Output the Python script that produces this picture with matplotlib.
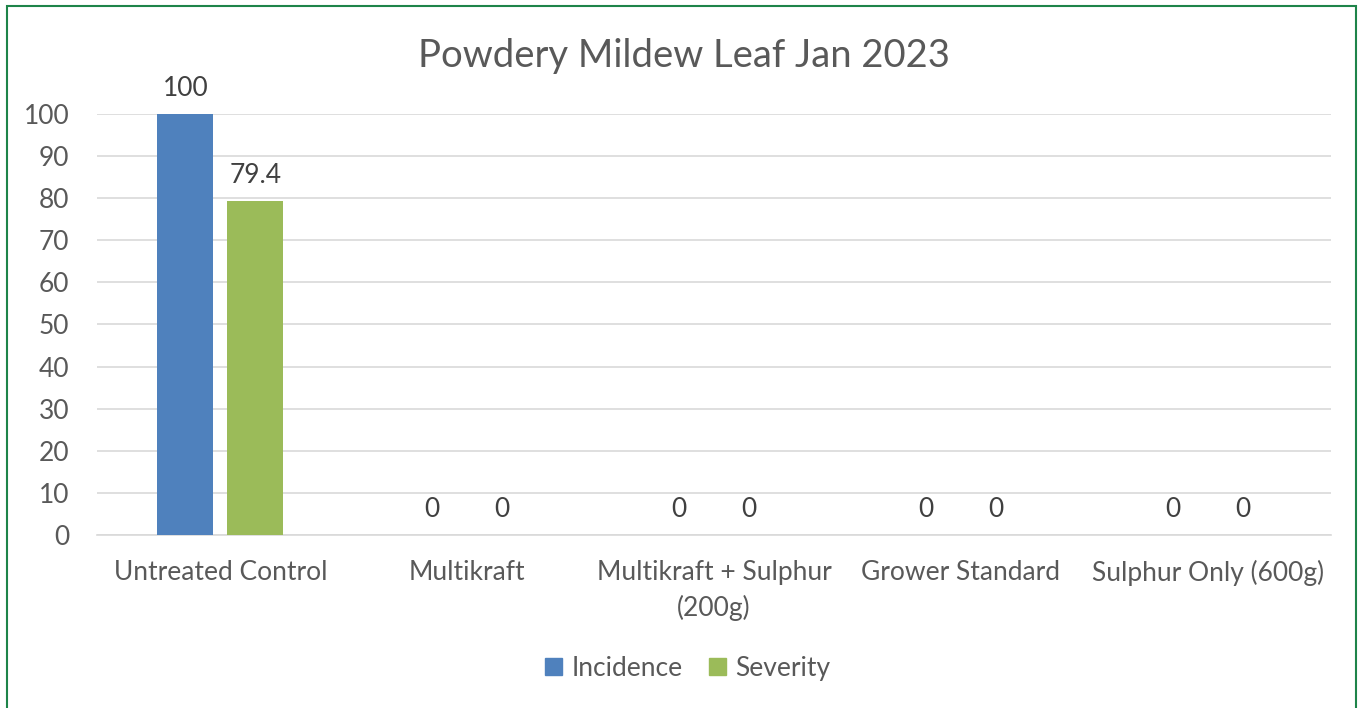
import matplotlib.pyplot as plt
import matplotlib.patches as mpatches
import numpy as np

plt.rcParams['font.family'] = ['Lato', 'DejaVu Sans']

categories = ['Untreated Control', 'Multikraft', 'Multikraft + Sulphur\n(200g)',
              'Grower Standard', 'Sulphur Only (600g)']
incidence = [100, 0, 0, 0, 0]
severity = [79.4, 0, 0, 0, 0]
yticks = [0, 10, 20, 30, 40, 50, 60, 70, 80, 90, 100]

blue = '#4f81bd'
green = '#9bbb59'
text_col = '#595959'

fig = plt.figure(figsize=(13.59, 7.08), dpi=100)
ax = fig.add_axes([0.0714, 0.2444, 0.908, 0.5946])

x = np.arange(len(categories))
w = 0.227
off = 0.142
b1 = ax.bar(x - off, incidence, w, color=blue, label='Incidence', zorder=3)
b2 = ax.bar(x + off, severity, w, color=green, label='Severity', zorder=3)

for bars, vals in [(b1, incidence), (b2, severity)]:
    for r, v in zip(bars, vals):
        lab = '{:g}'.format(v)
        ax.annotate(lab, (r.get_x() + r.get_width() / 2, v), xytext=(0, 9),
                    textcoords='offset points', ha='center', va='bottom',
                    fontsize=19, color='#404040')

ax.set_xlim(-0.5, len(categories) - 0.5)
ax.set_ylim(0, 100)
ax.set_yticks(yticks)
ax.set_xticks(x)
ax.set_xticklabels(categories, linespacing=1.45)
ax.tick_params(axis='both', length=0, labelsize=19, labelcolor=text_col)
ax.tick_params(axis='x', pad=18)
ax.tick_params(axis='y', pad=20)
ax.yaxis.grid(True, color='#d9d9d9', linewidth=1.2, zorder=0)
for s in ['top', 'right', 'left']:
    ax.spines[s].set_visible(False)
ax.spines['bottom'].set_color('#d9d9d9')
ax.spines['bottom'].set_linewidth(1.2)

fig.text(0.503, 0.921, 'Powdery Mildew Leaf Jan 2023', ha='center', va='center',
         fontsize=27.5, color=text_col)

handles = [mpatches.Patch(color=blue, label='Incidence'),
           mpatches.Patch(color=green, label='Severity')]
fig.legend(handles=handles, loc='center', bbox_to_anchor=(0.506, 0.056), ncol=2,
           frameon=False, fontsize=19, labelcolor=text_col, handlelength=0.65,
           handleheight=0.65, handletextpad=0.35, columnspacing=1.0)

border = mpatches.Rectangle((7 / 1359, -0.01), 1349 / 1359, 1 - 6 / 708 + 0.01,
                            transform=fig.transFigure, fill=False,
                            edgecolor='#1e8449', linewidth=1.5)
fig.patches.append(border)

fig.savefig('out.png', dpi=100)
